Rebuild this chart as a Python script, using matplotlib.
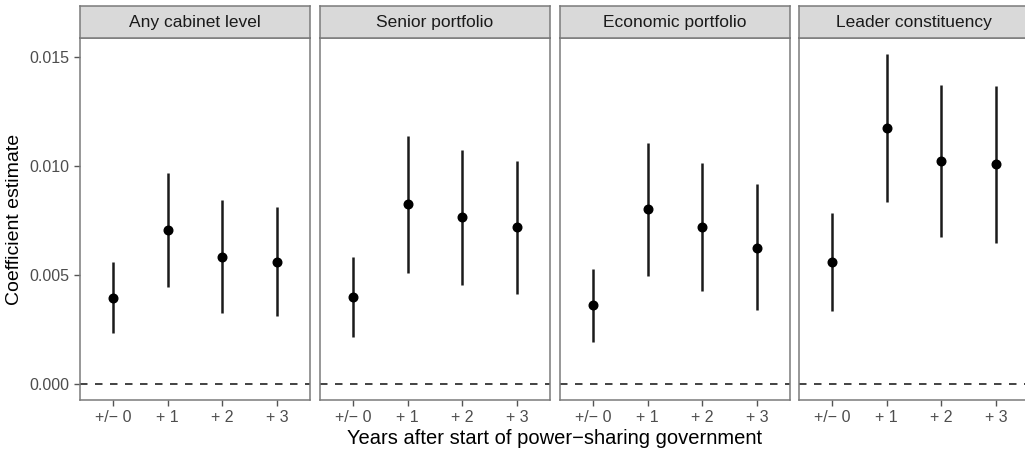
import matplotlib.pyplot as plt

plt.rcParams['font.family'] = ['Liberation Sans', 'DejaVu Sans']

panels = ['Any cabinet level', 'Senior portfolio', 'Economic portfolio', 'Leader constituency']
tick_labels = ['+/\u2212 0', '+ 1', '+ 2', '+ 3']

estimate = [
    [0.00396, 0.00706, 0.00581, 0.00558],
    [0.00401, 0.00827, 0.00766, 0.00722],
    [0.00361, 0.00801, 0.00722, 0.00625],
    [0.00558, 0.01174, 0.01024, 0.01009],
]
lower = [
    [0.00232, 0.00444, 0.00324, 0.00312],
    [0.00217, 0.00511, 0.00454, 0.00414],
    [0.00194, 0.00495, 0.00427, 0.00339],
    [0.00335, 0.00836, 0.00673, 0.00645],
]
upper = [
    [0.00561, 0.00969, 0.00844, 0.00813],
    [0.00581, 0.01138, 0.01073, 0.01024],
    [0.00526, 0.01104, 0.01015, 0.00916],
    [0.00786, 0.01514, 0.01372, 0.01369],
]

W, H = 1025, 451
fig = plt.figure(figsize=(W / 100, H / 100), dpi=100)

lefts = [80, 320, 560, 799]
pw = 230
top, bottom = 38, 400
strip_top = 6
border = '#7a7a7a'

for i, name in enumerate(panels):
    ax = fig.add_axes([lefts[i] / W, 1 - bottom / H, pw / W, (bottom - top) / H])
    x = list(range(4))
    for xi, e, lo, hi in zip(x, estimate[i], lower[i], upper[i]):
        ax.plot([xi, xi], [lo, hi], color='#1a1a1a', lw=1.8, solid_capstyle='butt')
    ax.plot(x, estimate[i], 'o', color='black', ms=6.2)
    ax.axhline(0, color='#222222', lw=1.2, ls=(0, (4.5, 4.5)))
    ax.set_xlim(-0.6, 3.6)
    ax.set_ylim(-0.00073, 0.01587)
    ax.set_xticks(x)
    ax.set_xticklabels(tick_labels)
    ax.set_yticks([0, 0.005, 0.010, 0.015])
    if i == 0:
        ax.set_yticklabels(['0.000', '0.005', '0.010', '0.015'])
        ax.set_ylabel('Coefficient estimate', fontsize=14, labelpad=5)
    else:
        ax.tick_params(axis='y', left=False, labelleft=False)
    ax.tick_params(colors='#555555', labelcolor='#4d4d4d', labelsize=11.5,
                   length=4, width=1)
    for s in ax.spines.values():
        s.set_color(border)
        s.set_linewidth(1.1)

    # strip
    sax = fig.add_axes([lefts[i] / W, 1 - top / H, pw / W, (top - strip_top) / H])
    sax.set_facecolor('#d9d9d9')
    sax.set_xticks([])
    sax.set_yticks([])
    for s in sax.spines.values():
        s.set_color(border)
        s.set_linewidth(1.1)
    sax.text(0.5, 0.5, name, ha='center', va='center', fontsize=12.5,
             color='#1a1a1a', transform=sax.transAxes)

fig.text(555 / W, 1 - 438 / H, 'Years after start of power\u2212sharing government',
         ha='center', va='center', fontsize=14.5)

plt.savefig('out.png', dpi=100)
